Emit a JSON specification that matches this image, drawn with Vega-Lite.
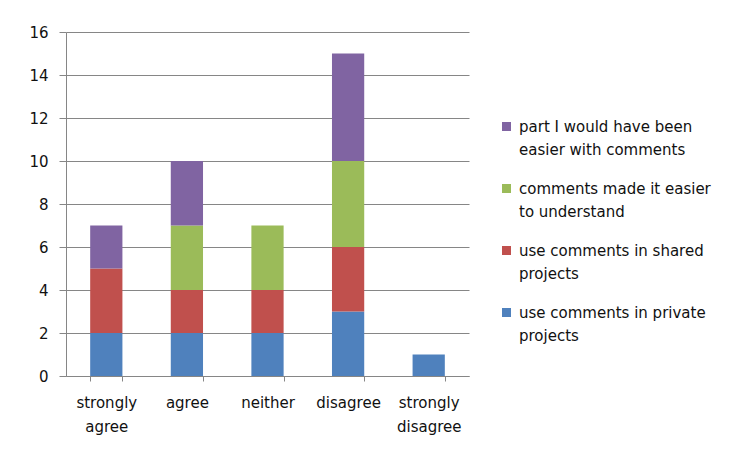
{
  "$schema": "https://vega.github.io/schema/vega-lite/v6.json",
  "width": 403,
  "height": 344,
  "autosize": {"type": "none"},
  "padding": {"left": 66, "top": 32, "right": 271, "bottom": 73},
  "background": "white",
  "data": {
    "values": [
      {"answer": "strongly agree", "series": "use comments in private projects", "k": 1, "count": 2},
      {"answer": "strongly agree", "series": "use comments in shared projects", "k": 2, "count": 3},
      {"answer": "strongly agree", "series": "part I would have been easier with comments", "k": 4, "count": 2},
      {"answer": "agree", "series": "use comments in private projects", "k": 1, "count": 2},
      {"answer": "agree", "series": "use comments in shared projects", "k": 2, "count": 2},
      {"answer": "agree", "series": "comments made it easier to understand", "k": 3, "count": 3},
      {"answer": "agree", "series": "part I would have been easier with comments", "k": 4, "count": 3},
      {"answer": "neither", "series": "use comments in private projects", "k": 1, "count": 2},
      {"answer": "neither", "series": "use comments in shared projects", "k": 2, "count": 2},
      {"answer": "neither", "series": "comments made it easier to understand", "k": 3, "count": 3},
      {"answer": "disagree", "series": "use comments in private projects", "k": 1, "count": 3},
      {"answer": "disagree", "series": "use comments in shared projects", "k": 2, "count": 3},
      {"answer": "disagree", "series": "comments made it easier to understand", "k": 3, "count": 4},
      {"answer": "disagree", "series": "part I would have been easier with comments", "k": 4, "count": 5},
      {"answer": "strongly disagree", "series": "use comments in private projects", "k": 1, "count": 1}
    ]
  },
  "mark": {"type": "bar"},
  "encoding": {
    "x": {
      "field": "answer",
      "type": "nominal",
      "sort": ["strongly agree", "agree", "neither", "disagree", "strongly disagree"],
      "scale": {"paddingInner": 0.6, "paddingOuter": 0.3},
      "axis": {
        "title": null,
        "labelAngle": 0,
        "labelExpr": "split(datum.label, ' ')",
        "labelLineHeight": 24,
        "labelPadding": 14,
        "tickBand": "extent",
        "tickSize": 5,
        "tickColor": "#868686",
        "domainColor": "#868686",
        "labelFont": "DejaVu Sans",
        "labelFontSize": 15,
        "labelColor": "#111111"
      }
    },
    "y": {
      "field": "count",
      "type": "quantitative",
      "aggregate": "sum",
      "stack": "zero",
      "scale": {"domain": [0, 16], "nice": false},
      "axis": {
        "title": null,
        "values": [0, 2, 4, 6, 8, 10, 12, 14, 16],
        "tickSize": 7,
        "labelPadding": 11,
        "tickColor": "#868686",
        "domainColor": "#868686",
        "gridColor": "#868686",
        "grid": true,
        "labelFont": "DejaVu Sans",
        "labelFontSize": 15,
        "labelColor": "#111111"
      }
    },
    "color": {
      "field": "series",
      "type": "nominal",
      "scale": {
        "domain": ["use comments in private projects", "use comments in shared projects", "comments made it easier to understand", "part I would have been easier with comments"],
        "range": ["#4F81BD", "#C0504D", "#9BBB59", "#8064A2"]
      },
      "legend": {
        "title": null,
        "orient": "none",
        "legendX": 433,
        "legendY": 87,
        "padding": 0,
        "values": ["part I would have been easier with comments", "comments made it easier to understand", "use comments in shared projects", "use comments in private projects"],
        "labelExpr": "datum.label == 'part I would have been easier with comments' ? ['part I would have been', 'easier with comments'] : datum.label == 'comments made it easier to understand' ? ['comments made it easier', 'to understand'] : datum.label == 'use comments in shared projects' ? ['use comments in shared', 'projects'] : ['use comments in private', 'projects']",
        "labelFont": "DejaVu Sans",
        "labelFontSize": 15,
        "labelLimit": 300,
        "labelColor": "#111111",
        "labelOffset": 5,
        "symbolType": "square",
        "symbolSize": 81,
        "symbolStrokeWidth": 0,
        "rowPadding": 23
      }
    },
    "order": {"field": "k", "type": "quantitative", "sort": "ascending"}
  },
  "config": {
    "view": {"stroke": null},
    "axis": {"gridWidth": 1, "domainWidth": 1, "tickWidth": 1},
    "style": {"guide-label": {"lineHeight": 23}}
  }
}
